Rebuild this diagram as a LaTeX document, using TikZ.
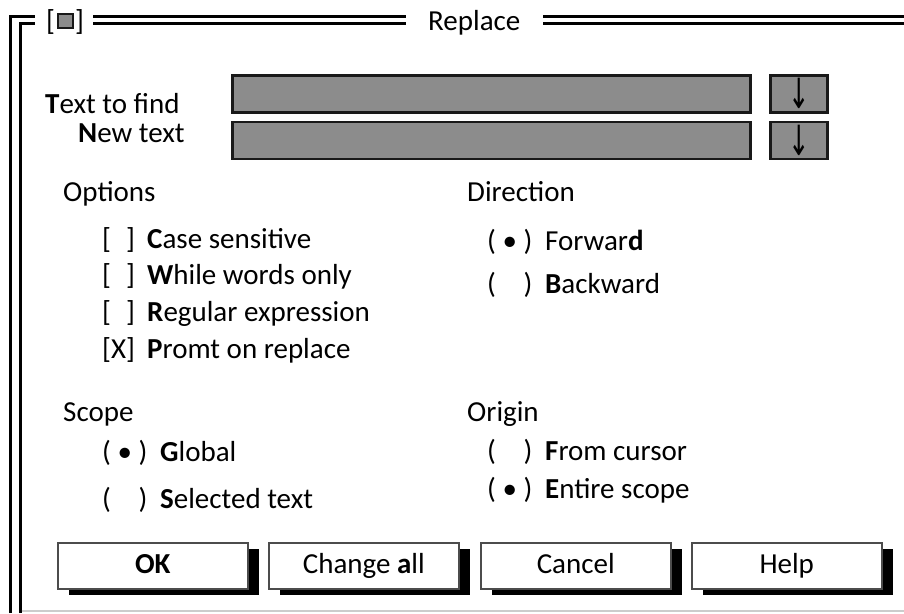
\documentclass[tikz,border=0pt]{standalone}
\usepackage{fontspec}
\setmainfont{Carlito}
\newfontfamily\arrowfont{DejaVu Sans}
\usetikzlibrary{calc,positioning,shadows}
\tikzset{field/.style = {draw=black!90, line width=2.5pt, fill=black!45, rectangle,
                  anchor=north west, inner sep=0pt},
        button/.style = {draw=black!70, line width=1.5pt, fill=white, rectangle,
                  minimum width=190pt, minimum height=46pt, anchor=north west, inner sep=0pt,
                  text height=20pt, text depth=5pt,
                  drop shadow={shadow xshift=11pt, shadow yshift=-6.5pt, fill=black, opacity=1}},
        txt/.style = {anchor=base west, inner sep=0pt},
        frameline/.style = {line width=2.4pt, black}
    }

\begin{document}
\begin{tikzpicture}[x=1pt, y=-1pt, font=\fontsize{29}{32}\selectfont]
    \tikzstyle{listbtn} = [field, minimum width=57pt, minimum height=37pt,
                           font=\arrowfont\fontsize{32}{32}\selectfont]
    \useasboundingbox (0,0) rectangle (904,613);

    % window frame
    \draw[frameline] (10.5,613) -- (10.5,16.5) -- (35,16.5);
    \draw[frameline] (20.5,613) -- (20.5,23.5) -- (35,23.5);
    \draw[frameline] (93,16.5) -- (406,16.5) (93,23.5) -- (406,23.5);
    \draw[frameline] (543,16.5) -- (904,16.5) (543,23.5) -- (904,23.5);
    \draw[black!20, line width=1.5pt] (21.5,611) -- (904,611);

    \node[txt] (lbrack) at (46,30) {[};
    \node[field, line width=2pt, minimum width=15pt, minimum height=14pt] (closebox) at (57,13) {};
    \node[txt] (rbrack) at (75,30) {]};
    \node[txt] (title) at (428,30) {Replace};

    % input lines
    \node[txt] (lblfind) at (45,113) {\textbf{T}ext to find};
    \node[txt] (lblnew) at (78,142) {\textbf{N}ew text};
    \node[field, minimum width=518pt, minimum height=37pt] (findfield) at (231,74) {};
    \node[field, minimum width=518pt, minimum height=37pt] (newfield) at (231,120.5) {};
    \node[listbtn] (findlist) at (769,74) {\scalebox{0.8}[1.3]{↓}};
    \node[listbtn] (newlist) at (769,120.5) {\scalebox{0.8}[1.3]{↓}};

    % options
    \node[txt] (options) at (63,201) {Options};
    \node[txt] (boxcase) at (102,248) {[\hphantom{X}]};
    \node[txt] (optcase) at (147,248) {\textbf{C}ase sensitive};
    \node[txt] (boxwhole) at (102,284) {[\hphantom{X}]};
    \node[txt] (optwhole) at (147,284) {\textbf{W}hile words only};
    \node[txt] (boxregex) at (102,321) {[\hphantom{X}]};
    \node[txt] (optregex) at (147,321) {\textbf{R}egular expression};
    \node[txt] (boxpromt) at (102,358) {[X]};
    \node[txt] (optpromt) at (147,358) {\textbf{P}romt on replace};

    % direction
    \node[txt] (direction) at (467,201) {Direction};
    \node[txt] (radfwd) at (487,250) {( • )};
    \node[txt] (dirfwd) at (545,250) {Forwar\textbf{d}};
    \node[txt] (radback) at (487,293) {( \hphantom{•} )};
    \node[txt] (dirback) at (545,293) {\textbf{B}ackward};

    % scope
    \node[txt] (scope) at (63,421) {Scope};
    \node[txt] (radglobal) at (102,461) {( • )};
    \node[txt] (scglobal) at (160,461) {\textbf{G}lobal};
    \node[txt] (radsel) at (102,508) {( \hphantom{•} )};
    \node[txt] (scsel) at (160,508) {\textbf{S}elected text};

    % origin
    \node[txt] (origin) at (467,421) {Origin};
    \node[txt] (radcursor) at (487,460) {( \hphantom{•} )};
    \node[txt] (orcursor) at (545,460) {\textbf{F}rom cursor};
    \node[txt] (radentire) at (487,498) {( • )};
    \node[txt] (orentire) at (545,498) {\textbf{E}ntire scope};

    % buttons
    \node[button] (ok) at (57,542) {\textbf{OK}};
    \node[button] (changeall) at (268,542) {Change \textbf{a}ll};
    \node[button] (cancel) at (480,542) {Cancel};
    \node[button] (help) at (691,542) {Help};
\end{tikzpicture}
\end{document}
